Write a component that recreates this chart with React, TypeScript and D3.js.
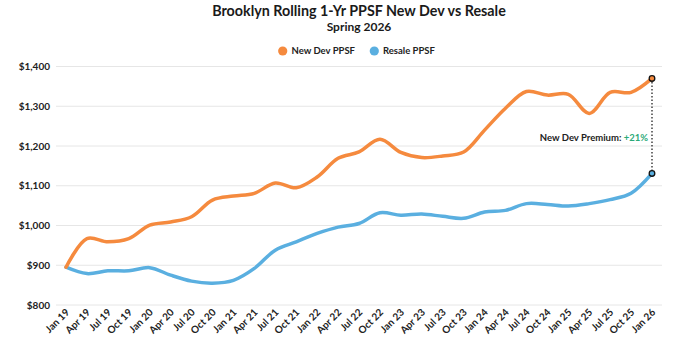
import React from "react";
import * as d3 from "d3";

const quarters = [
  "Jan 19","Apr 19","Jul 19","Oct 19","Jan 20","Apr 20","Jul 20","Oct 20",
  "Jan 21","Apr 21","Jul 21","Oct 21","Jan 22","Apr 22","Jul 22","Oct 22",
  "Jan 23","Apr 23","Jul 23","Oct 23","Jan 24","Apr 24","Jul 24","Oct 24",
  "Jan 25","Apr 25","Jul 25","Oct 25","Jan 26",
];
const newDev = [
  895, 967, 959, 967, 1001, 1009, 1022, 1064, 1074, 1081, 1107, 1095, 1122, 1169,
  1185, 1217, 1184, 1171, 1175, 1185, 1240, 1295, 1337, 1328, 1330, 1282, 1335, 1335, 1370,
];
const resale = [
  895, 879, 886, 886, 894, 875, 860, 855, 862, 892, 938, 959, 980, 996,
  1005, 1032, 1026, 1029, 1023, 1018, 1034, 1038, 1055, 1053, 1049, 1055, 1065, 1081, 1131,
];
const yTicks = [800, 900, 1000, 1100, 1200, 1300, 1400];
const seriesNames = ["New Dev PPSF", "Resale PPSF"];

const W = 682, H = 342;
const ORANGE = "#F58A3E";
const BLUE = "#5AAFE0";
const FONT = "Lato, 'Open Sans', sans-serif";

export default function App() {
  const x = d3.scalePoint<string>().domain(quarters).range([66, 652]);
  const y = d3.scaleLinear().domain([800, 1400]).range([305, 66.5]);
  const line = d3
    .line<number>()
    .x((_, i) => x(quarters[i]) as number)
    .y((d) => y(d))
    .curve(d3.curveCatmullRom.alpha(0.5));
  const fmt = (v: number) => "$" + d3.format(",")(v);
  const lastX = x(quarters[quarters.length - 1]) as number;
  const nd = newDev[newDev.length - 1];
  const rs = resale[resale.length - 1];
  const prem = Math.round((nd / rs - 1) * 100);

  return (
    <div style={{ position: "fixed", left: 0, top: 0, width: W, height: H, background: "#fff" }}>
      <svg width={W} height={H} style={{ display: "block", fontFamily: FONT }}>
        <rect width={W} height={H} fill="#fff" />
        <text x={359} y={15.5} textAnchor="middle" fontSize={14.3} fontWeight={700} fill="#1a1a1a">
          Brooklyn Rolling 1-Yr PPSF New Dev vs Resale
        </text>
        <text x={359} y={30.5} textAnchor="middle" fontSize={12} fontWeight={700} fill="#1a1a1a">
          Spring 2026
        </text>
        {/* legend */}
        <circle cx={282.7} cy={51} r={4.6} fill={ORANGE} />
        <text x={291.5} y={54.3} fontSize={9.5} fontWeight={700} fill="#222">{seriesNames[0]}</text>
        <circle cx={374.3} cy={51} r={4.6} fill={BLUE} />
        <text x={383} y={54.3} fontSize={9.5} fontWeight={700} fill="#222">{seriesNames[1]}</text>
        {/* grid + y labels */}
        {yTicks.map((t) => (
          <g key={t}>
            <line x1={56} x2={662} y1={y(t)} y2={y(t)} stroke="#e6e6e6" strokeWidth={1} />
            <text x={50} y={y(t) + 3.5} textAnchor="end" fontSize={10} fontWeight={700} fill="#222">
              {fmt(t)}
            </text>
          </g>
        ))}
        {/* x labels */}
        {quarters.map((q) => (
          <text
            key={q}
            transform={`translate(${(x(q) as number) + 4},${313}) rotate(-45)`}
            textAnchor="end"
            fontSize={10}
            fontWeight={700}
            fill="#222"
          >
            {q}
          </text>
        ))}
        {/* lines */}
        <path d={line(resale) || ""} fill="none" stroke={BLUE} strokeWidth={3.5} strokeLinecap="round" strokeLinejoin="round" />
        <path d={line(newDev) || ""} fill="none" stroke={ORANGE} strokeWidth={3.5} strokeLinecap="round" strokeLinejoin="round" />
        {/* annotation */}
        <line x1={lastX} x2={lastX} y1={y(nd)} y2={y(rs)} stroke="#111" strokeWidth={1.2} strokeDasharray="1.5 2" />
        <circle cx={lastX} cy={y(nd)} r={2.8} fill={ORANGE} stroke="#111" strokeWidth={1.3} />
        <circle cx={lastX} cy={y(rs)} r={2.8} fill={BLUE} stroke="#111" strokeWidth={1.3} />
        <text x={lastX - 4} y={141} textAnchor="end" fontSize={9.5} fontWeight={700} fill="#222">
          New Dev Premium:{" "}
          <tspan fill="#2BAA78">+{prem}%</tspan>
        </text>
      </svg>
    </div>
  );
}
